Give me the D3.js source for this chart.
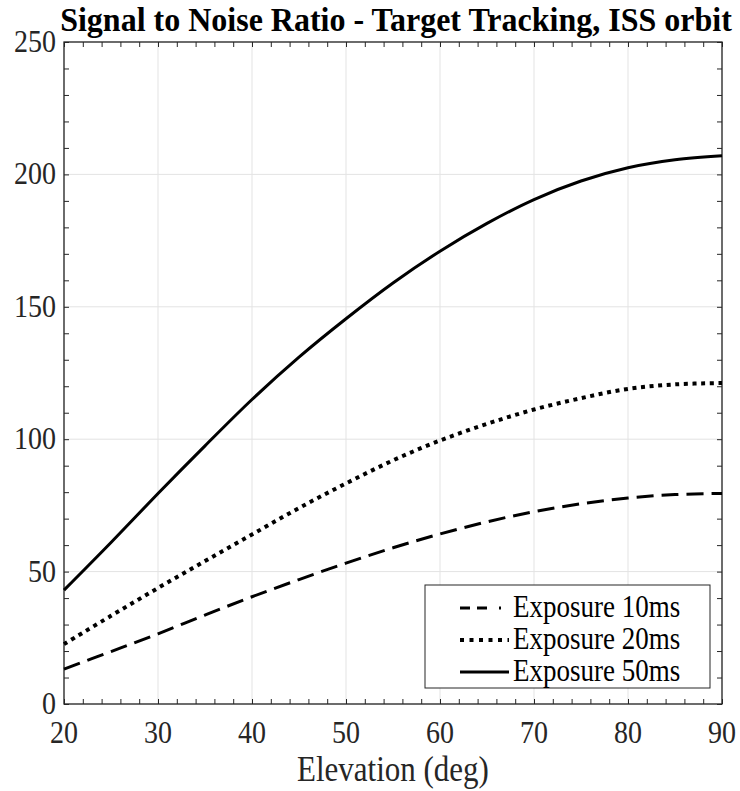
<!DOCTYPE html>
<html>
<head>
<meta charset="utf-8">
<script src="https://cdn.jsdelivr.net/npm/d3@7"></script>
<style>
  body { margin: 0; background: #fff; }
  svg text { font-family: "Liberation Serif", "Times New Roman", serif; fill: #262626; }
</style>
</head>
<body>
<svg id="chart"></svg>
<script>
// elevation angles (deg)
let elevation = [20, 25, 30, 35, 40, 45, 50, 55, 60, 65, 70, 75, 80, 85, 90];
// SNR for each exposure
let snr10 = [13.2, 19.8, 26.5, 33.6, 40.5, 47, 53.2, 59, 64.2, 68.8, 72.6, 75.6, 77.8, 79.1, 79.5];
let snr20 = [22.6, 33.3, 43.8, 54, 64, 74, 83.3, 92, 99.5, 105.8, 111.2, 115.5, 119, 120.7, 121.2];
let snr50 = [43, 61, 79.5, 97.5, 115, 131, 145.5, 159, 171, 181.5, 190.5, 197.5, 202.5, 205.5, 207];

let seriesNames = ['Exposure 10ms', 'Exposure 20ms', 'Exposure 50ms'];
let xTicks = [20, 30, 40, 50, 60, 70, 80, 90];
let yTicks = [0, 50, 100, 150, 200, 250];

let W = 740, H = 791;
let margin = {left: 64, right: 18, top: 42, bottom: 87};
let stretch = 1.15; // text in the reference is a little taller than wide

let svg = d3.select('#chart').attr('width', W).attr('height', H);

let x = d3.scaleLinear().domain([20, 90]).range([margin.left, W - margin.right]);
let y = d3.scaleLinear().domain([0, 250]).range([H - margin.bottom, margin.top]);

let x0 = x.range()[0], x1 = x.range()[1], y0 = y.range()[0], y1 = y.range()[1];

// grid
let grid = svg.append('g');
grid.selectAll('.gx').data(xTicks).join('line')
    .attr('x1', d => x(d)).attr('x2', d => x(d))
    .attr('y1', y1).attr('y2', y0)
    .attr('stroke', '#e3e3e3').attr('stroke-width', 1);
grid.selectAll('.gy').data(yTicks).join('line')
    .attr('x1', x0).attr('x2', x1)
    .attr('y1', d => y(d)).attr('y2', d => y(d))
    .attr('stroke', '#e3e3e3').attr('stroke-width', 1);

// ticks, pointing inwards on all four sides
let xMinor = d3.range(20, 91, 2);
let yMinor = d3.range(0, 251, 10);
let tl = 5;

function styleAxis(g) {
    g.select('.domain').remove();
    g.selectAll('.tick line').attr('stroke', '#262626').attr('stroke-width', 1);
}

svg.append('g').attr('transform', `translate(0,${y0})`)
    .call(d3.axisBottom(x).tickValues(xMinor).tickSize(-tl).tickFormat(''))
    .call(styleAxis);
svg.append('g').attr('transform', `translate(0,${y1})`)
    .call(d3.axisTop(x).tickValues(xMinor).tickSize(-tl).tickFormat(''))
    .call(styleAxis);
svg.append('g').attr('transform', `translate(${x0},0)`)
    .call(d3.axisLeft(y).tickValues(yMinor).tickSize(-tl).tickFormat(''))
    .call(styleAxis);
svg.append('g').attr('transform', `translate(${x1},0)`)
    .call(d3.axisRight(y).tickValues(yMinor).tickSize(-tl).tickFormat(''))
    .call(styleAxis);

// tick labels
svg.append('g').selectAll('text').data(xTicks).join('text')
    .attr('transform', d => `translate(${x(d)},${y0 + 39}) scale(1,${stretch})`)
    .attr('text-anchor', 'middle')
    .style('font-size', '28px')
    .text(d => d);
svg.append('g').selectAll('text').data(yTicks).join('text')
    .attr('transform', d => `translate(${x0 - 8},${y(d) + 10}) scale(1,${stretch})`)
    .attr('text-anchor', 'end')
    .style('font-size', '28px')
    .text(d => d);

// frame
svg.append('rect')
    .attr('x', x0).attr('y', y1)
    .attr('width', x1 - x0).attr('height', y0 - y1)
    .attr('fill', 'none').attr('stroke', '#262626').attr('stroke-width', 1.3);

// lines
let styles = [
    {dash: '17,8', width: 3},
    {dash: '4,4.6', width: 4},
    {dash: null, width: 3}
];
let allSeries = [snr10, snr20, snr50];

let line = d3.line()
    .x((d, i) => x(elevation[i]))
    .y(d => y(d))
    .curve(d3.curveCatmullRom);

svg.append('g').selectAll('path').data(allSeries).join('path')
    .attr('d', line)
    .attr('fill', 'none')
    .attr('stroke', '#000')
    .attr('stroke-width', (d, i) => styles[i].width)
    .attr('stroke-dasharray', (d, i) => styles[i].dash);

// title and axis label
svg.append('text')
    .attr('transform', `translate(${(x0 + x1) / 2 + 3},31) scale(1,1.08)`)
    .attr('text-anchor', 'middle')
    .style('font-size', '32px').style('font-weight', 'bold')
    .style('fill', '#000')
    .text('Signal to Noise Ratio - Target Tracking, ISS orbit');

svg.append('text')
    .attr('transform', `translate(${(x0 + x1) / 2},${H - 10}) scale(1,${stretch})`)
    .attr('text-anchor', 'middle')
    .style('font-size', '31px')
    .text('Elevation (deg)');

// legend
let legend = svg.append('g').attr('transform', 'translate(425,585)');
legend.append('rect')
    .attr('width', 285).attr('height', 103)
    .attr('fill', '#fff').attr('stroke', '#262626').attr('stroke-width', 1);

let legendDash = ['10,7,10,12,2,20', '4,5.5', null];
let items = legend.selectAll('g').data(seriesNames).join('g')
    .attr('transform', (d, i) => `translate(0,${23 + i * 32})`);
items.append('line')
    .attr('x1', 35).attr('x2', 84)
    .attr('stroke', '#000')
    .attr('stroke-width', (d, i) => styles[i].width)
    .attr('stroke-dasharray', (d, i) => legendDash[i]);
items.append('text')
    .attr('transform', `translate(88,9) scale(1,${stretch})`)
    .style('font-size', '27px')
    .style('fill', '#000')
    .text(d => d);
</script>
</body>
</html>
